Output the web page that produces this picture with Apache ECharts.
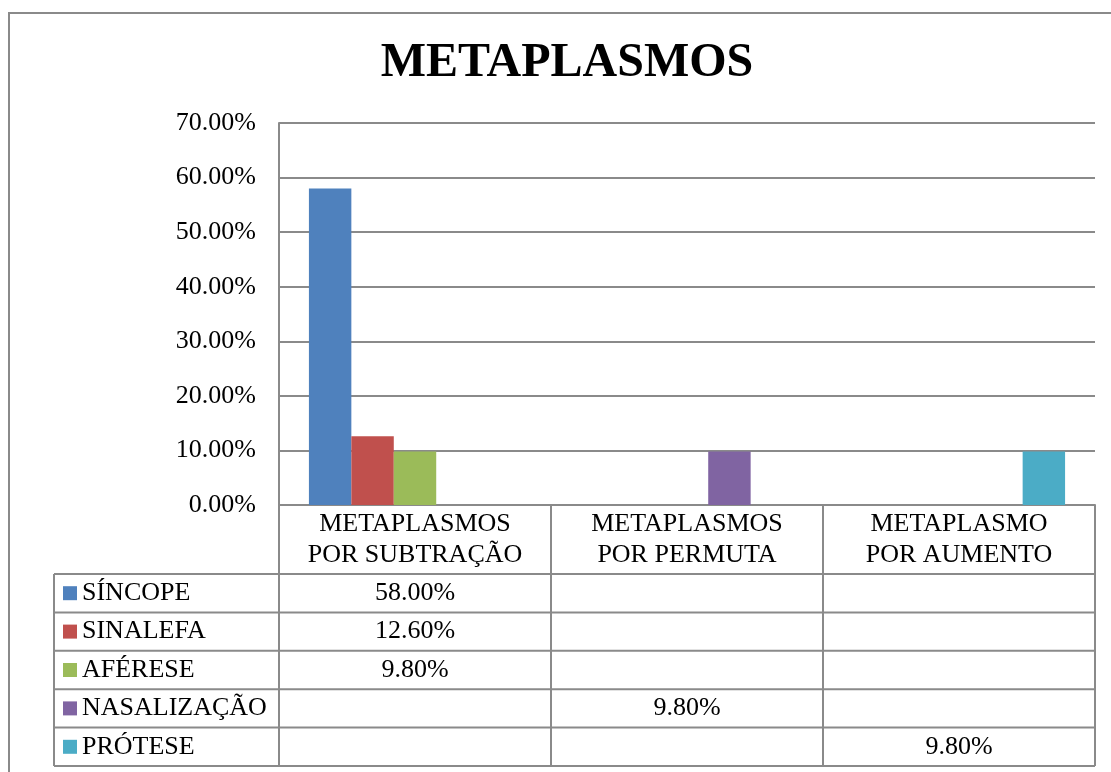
<!DOCTYPE html>
<html>
<head>
<meta charset="utf-8">
<script src="https://cdn.jsdelivr.net/npm/echarts@6/dist/echarts.min.js"></script>
<style>html,body{margin:0;padding:0;background:#fff;}#c{width:1111px;height:772px;}</style>
</head>
<body>
<div id="c"></div>
<script>
const titleText = 'METAPLASMOS';
const categories = ['METAPLASMOS\nPOR SUBTRAÇÃO', 'METAPLASMOS\nPOR PERMUTA', 'METAPLASMO\nPOR AUMENTO'];
const seriesNames = ['SÍNCOPE', 'SINALEFA', 'AFÉRESE', 'NASALIZAÇÃO', 'PRÓTESE'];
const sincope = [58.0, null, null];
const sinalefa = [12.6, null, null];
const aferese = [9.8, null, null];
const nasalizacao = [null, 9.8, null];
const protese = [null, null, 9.8];
const seriesValues = [sincope, sinalefa, aferese, nasalizacao, protese];
const colors = ['#4F81BD', '#C0504D', '#9BBB59', '#8064A2', '#4BACC6'];
const yMin = 0, yMax = 70, yStep = 10;

const FONT = '"Liberation Serif", "Times New Roman", serif';
const GRAY = '#8a8a8a';
const gridL = 279, gridR = 1095, gridT = 123, gridB = 505;
const tableTop = 574, rowH = 38.4, tableLeft = 54;

const fmt = v => v.toFixed(2) + '%';

const chart = echarts.init(document.getElementById('c'), null, {renderer: 'canvas'});
const option = {
  animation: false,
  backgroundColor: '#fff',
  color: colors,
  grid: {left: gridL, right: 1111 - gridR, top: gridT, bottom: 772 - gridB, containLabel: false},
  xAxis: {
    type: 'category',
    data: categories,
    axisLine: {show: true, lineStyle: {color: GRAY, width: 2}},
    axisTick: {show: true, length: 766 - gridB, lineStyle: {color: GRAY, width: 2}},
    axisLabel: {fontFamily: FONT, fontSize: 26, color: '#000', lineHeight: 31, margin: 4, interval: 0}
  },
  yAxis: {
    type: 'value', min: yMin, max: yMax, interval: yStep,
    axisLine: {show: true, lineStyle: {color: GRAY, width: 2}},
    axisTick: {show: false},
    splitLine: {show: true, lineStyle: {color: GRAY, width: 2}},
    axisLabel: {fontFamily: FONT, fontSize: 26, color: '#000', margin: 23, formatter: v => fmt(v)}
  },
  series: seriesNames.map((n, i) => ({
    name: n, type: 'bar', data: seriesValues[i],
    barGap: '0%', barCategoryGap: '22%',
    itemStyle: {color: colors[i]}
  }))
};
chart.setOption(option);

function buildGraphic() {
  const g = [];
  g.push({type: 'rect', shape: {x: 9, y: 13, width: 1200, height: 900}, style: {fill: 'none', stroke: GRAY, lineWidth: 2}, silent: true, z: 0});
  g.push({type: 'text', x: 567, y: 64, style: {text: titleText, font: 'bold 48px ' + FONT, fill: '#000', textAlign: 'center', textVerticalAlign: 'middle'}});
  for (let k = 0; k <= seriesNames.length; k++) {
    const y = tableTop + k * rowH;
    g.push({type: 'line', shape: {x1: tableLeft, y1: y, x2: gridR, y2: y}, style: {stroke: GRAY, lineWidth: 2}});
  }
  g.push({type: 'line', shape: {x1: tableLeft, y1: tableTop, x2: tableLeft, y2: tableTop + seriesNames.length * rowH}, style: {stroke: GRAY, lineWidth: 2}});
  seriesNames.forEach((n, i) => {
    const cy = tableTop + (i + 0.5) * rowH;
    g.push({type: 'rect', shape: {x: 63, y: cy - 7, width: 14, height: 14}, style: {fill: colors[i]}});
    g.push({type: 'text', x: 82, y: cy, style: {text: n, font: '26px ' + FONT, fill: '#000', textAlign: 'left', textVerticalAlign: 'middle'}});
    seriesValues[i].forEach((v, j) => {
      if (v == null) return;
      const cx = chart.convertToPixel({xAxisIndex: 0}, j);
      g.push({type: 'text', x: cx, y: cy, style: {text: fmt(v), font: '26px ' + FONT, fill: '#000', textAlign: 'center', textVerticalAlign: 'middle'}});
    });
  });
  chart.setOption({graphic: g});
}
buildGraphic();
</script>
</body>
</html>
